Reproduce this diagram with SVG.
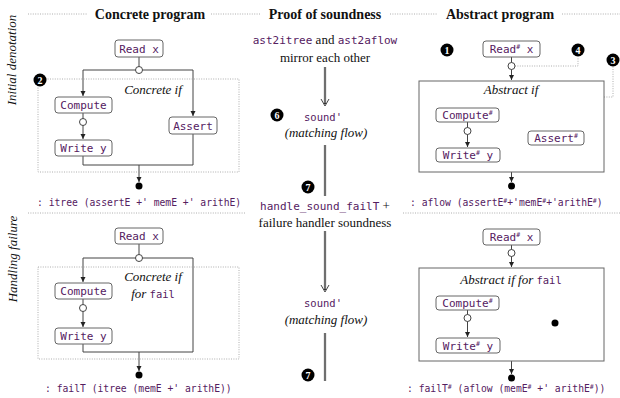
<svg xmlns="http://www.w3.org/2000/svg" width="620" height="398" viewBox="0 0 620 398">
  <defs>
    <style>
      .hdr { font-family: "Liberation Serif", serif; font-weight: bold; font-size: 14px; fill: #111; }
      .ser { font-family: "Liberation Serif", serif; font-size: 13px; fill: #111; }
      .it { font-family: "Liberation Serif", serif; font-style: italic; font-size: 13px; fill: #111; }
      .code { font-family: "DejaVu Sans Mono", "Liberation Mono", monospace; fill: #55205f; }
      .lbl { font-size: 11px; }
      .cap { font-size: 9.7px; }
      .mid { font-size: 10.5px; }
      .sup { font-size: 6.5px; }
      .box { fill: #fff; stroke: #666; stroke-width: 1; }
      .frame { fill: none; stroke: #666; stroke-width: 1; }
      .dots { fill: none; stroke: #999; stroke-width: 0.8; stroke-dasharray: 1 1.4; }
      .flow { fill: none; stroke: #444; stroke-width: 1; }
      .hole { fill: #fff; stroke: #444; stroke-width: 1; }
      .dot { fill: #000; }
      .badge { fill: #000; }
      .num { font-family: "Liberation Serif", serif; font-weight: bold; font-size: 10px; fill: #fff; text-anchor: middle; }
      .dbl { fill: none; stroke: #333; stroke-width: 2.2; }
      .dblin { fill: none; stroke: #fff; stroke-width: 0.6; }
    </style>
    <marker id="ah" markerWidth="6" markerHeight="6" refX="5" refY="2.5" orient="auto" markerUnits="userSpaceOnUse">
      <path d="M0,0 L5,2.5 L0,5 z" fill="#222"/>
    </marker>
  </defs>

  <!-- column headings on a dotted rule -->
  <g id="headings">
    <path class="dots" d="M28,14 H88 M211,14 H261 M390,14 H438 M562,14 H620"/>
    <text class="hdr" x="150" y="19" text-anchor="middle">Concrete program</text>
    <text class="hdr" x="325" y="19" text-anchor="middle">Proof of soundness</text>
    <text class="hdr" x="500" y="19" text-anchor="middle">Abstract program</text>
  </g>

  <!-- row headings -->
  <g id="row-labels">
    <text class="it" transform="translate(16,60) rotate(-90)" text-anchor="middle">Initial denotation</text>
    <text class="it" transform="translate(17,259) rotate(-90)" text-anchor="middle">Handling failure</text>
    <path class="dots" d="M28,213 H246 M403,213 H620"/>
  </g>

  <!-- connectors -->
  <g id="connectors">
    <!-- concrete, initial denotation -->
    <path class="flow" d="M139,57 V70"/>
    <path class="flow" d="M83,70 H193"/>
    <path class="flow" d="M83,70 V96" marker-end="url(#ah)"/>
    <path class="flow" d="M193,70 V116" marker-end="url(#ah)"/>
    <path class="flow" d="M83,113 V139" marker-end="url(#ah)"/>
    <path class="flow" d="M83,156 V165 H193 V134"/>
    <path class="flow" d="M139,165 V182" marker-end="url(#ah)"/>
    <!-- concrete, failure handling -->
    <path class="flow" d="M139,244 V258"/>
    <path class="flow" d="M83,258 H193 V352 H83 V344"/>
    <path class="flow" d="M83,258 V282" marker-end="url(#ah)"/>
    <path class="flow" d="M83,299 V327" marker-end="url(#ah)"/>
    <path class="flow" d="M139,352 V371" marker-end="url(#ah)"/>
    <!-- abstract, initial denotation -->
    <path class="flow" d="M511.5,57 V80" marker-end="url(#ah)"/>
    <path class="flow" d="M467.5,122 V147" marker-end="url(#ah)"/>
    <path class="flow" d="M511.5,172 V182" marker-end="url(#ah)"/>
    <path class="dots" d="M515,66 H578 V57"/>
    <path class="dots" d="M604,97 H613 V67"/>
    <!-- abstract, failure handling -->
    <path class="flow" d="M511.5,245 V267" marker-end="url(#ah)"/>
    <path class="flow" d="M467.5,310 V337" marker-end="url(#ah)"/>
    <path class="flow" d="M511.5,361 V374" marker-end="url(#ah)"/>
    <!-- proof chain (double rules) -->
    <path class="dbl" d="M325,67 V104"/>
    <path class="dblin" d="M325,67 V103"/>
    <path class="flow" d="M321,99 L325,106 L329,99"/>
    <path class="dbl" d="M325,145 V196"/>
    <path class="dblin" d="M325,145 V196"/>
    <path class="dbl" d="M325,231 V290"/>
    <path class="dblin" d="M325,231 V289"/>
    <path class="flow" d="M321,285 L325,292 L329,285"/>
    <path class="dbl" d="M325,333 V381"/>
    <path class="dblin" d="M325,333 V381"/>
    <!-- branch points and exits -->
    <circle class="hole" cx="139" cy="70" r="3.5"/>
    <circle class="hole" cx="83" cy="122" r="3.5"/>
    <circle class="dot" cx="139" cy="186" r="3.5"/>
    <circle class="hole" cx="139" cy="258" r="3.5"/>
    <circle class="hole" cx="83" cy="308" r="3.5"/>
    <circle class="dot" cx="139" cy="375" r="3.5"/>
    <circle class="hole" cx="511.5" cy="66" r="3.5"/>
    <circle class="hole" cx="467.5" cy="131" r="3.5"/>
    <circle class="dot" cx="511.5" cy="186" r="3.5"/>
    <circle class="hole" cx="511.5" cy="253" r="3.5"/>
    <circle class="hole" cx="467.5" cy="318" r="3.5"/>
    <circle class="dot" cx="511.5" cy="378" r="3.5"/>
  </g>

  <!-- concrete program, initial denotation -->
  <g id="concrete-if">
    <rect class="dots" x="38" y="79" width="201" height="93"/>
    <text class="it" x="153" y="94" text-anchor="middle">Concrete if</text>
  </g>
  <g id="c-read">
    <rect class="box" x="115" y="40" width="48" height="17" rx="3"/>
    <text class="code lbl" x="139" y="52.5" text-anchor="middle">Read x</text>
  </g>
  <g id="c-compute">
    <rect class="box" x="55" y="97" width="57" height="16" rx="3"/>
    <text class="code lbl" x="83.5" y="109" text-anchor="middle">Compute</text>
  </g>
  <g id="c-write">
    <rect class="box" x="55" y="140" width="57" height="16" rx="3"/>
    <text class="code lbl" x="83.5" y="152" text-anchor="middle">Write y</text>
  </g>
  <g id="c-assert">
    <rect class="box" x="169" y="117" width="48" height="17" rx="3"/>
    <text class="code lbl" x="193" y="129.5" text-anchor="middle">Assert</text>
  </g>
  <g id="c-type">
    <text class="code cap" x="37" y="206">: itree (assertE +' memE +' arithE)</text>
  </g>

  <!-- concrete program, failure handling -->
  <g id="concrete-if-fail">
    <rect class="dots" x="38" y="267" width="201" height="92"/>
    <text class="it" x="153" y="281" text-anchor="middle">Concrete if</text>
    <text class="it" x="153" y="298" text-anchor="middle">for <tspan class="code" font-style="normal" font-size="10.5px">fail</tspan></text>
  </g>
  <g id="cf-read">
    <rect class="box" x="115" y="228" width="48" height="16" rx="3"/>
    <text class="code lbl" x="139" y="240" text-anchor="middle">Read x</text>
  </g>
  <g id="cf-compute">
    <rect class="box" x="55" y="283" width="57" height="16" rx="3"/>
    <text class="code lbl" x="83.5" y="295" text-anchor="middle">Compute</text>
  </g>
  <g id="cf-write">
    <rect class="box" x="55" y="328" width="57" height="16" rx="3"/>
    <text class="code lbl" x="83.5" y="340" text-anchor="middle">Write y</text>
  </g>
  <g id="cf-type">
    <text class="code cap" x="45" y="392">: failT (itree (memE +' arithE))</text>
  </g>

  <!-- proof of soundness -->
  <g id="mirror">
    <text class="ser" x="325" y="44" text-anchor="middle"><tspan class="code" font-size="11px">ast2itree</tspan> and <tspan class="code" font-size="11px">ast2aflow</tspan></text>
    <text class="ser" x="325" y="62" text-anchor="middle">mirror each other</text>
  </g>
  <g id="sound-1">
    <text class="code mid" x="323" y="121" text-anchor="middle">sound'</text>
    <text class="it" x="326" y="137" text-anchor="middle">(matching flow)</text>
  </g>
  <g id="handler">
    <text class="ser" x="325" y="210" text-anchor="middle"><tspan class="code" font-size="11px">handle_sound_failT</tspan> +</text>
    <text class="ser" x="325" y="227" text-anchor="middle">failure handler soundness</text>
  </g>
  <g id="sound-2">
    <text class="code mid" x="323" y="307" text-anchor="middle">sound'</text>
    <text class="it" x="326" y="324" text-anchor="middle">(matching flow)</text>
  </g>

  <!-- abstract program, initial denotation -->
  <g id="abstract-if">
    <rect class="frame" x="419" y="81" width="185" height="91"/>
    <text class="it" x="511" y="94" text-anchor="middle">Abstract if</text>
  </g>
  <g id="a-read">
    <rect class="box" x="483" y="41" width="57" height="16" rx="3"/>
    <text class="code lbl" x="511.5" y="53" text-anchor="middle">Read<tspan class="sup" dy="-4">#</tspan><tspan dy="4"> x</tspan></text>
  </g>
  <g id="a-compute">
    <rect class="box" x="436" y="108" width="63" height="14" rx="3"/>
    <text class="code lbl" x="467.5" y="119" text-anchor="middle">Compute<tspan class="sup" dy="-4">#</tspan></text>
  </g>
  <g id="a-write">
    <rect class="box" x="436" y="148" width="64" height="14" rx="3"/>
    <text class="code lbl" x="468" y="159" text-anchor="middle">Write<tspan class="sup" dy="-4">#</tspan><tspan dy="4"> y</tspan></text>
  </g>
  <g id="a-assert">
    <rect class="box" x="528" y="131" width="56" height="14" rx="3"/>
    <text class="code lbl" x="556" y="142" text-anchor="middle">Assert<tspan class="sup" dy="-4">#</tspan></text>
  </g>
  <g id="a-type">
    <text class="code cap" x="410" y="206">: aflow (assertE<tspan class="sup" dy="-3.5">#</tspan><tspan dy="3.5">+'memE</tspan><tspan class="sup" dy="-3.5">#</tspan><tspan dy="3.5">+'arithE</tspan><tspan class="sup" dy="-3.5">#</tspan><tspan dy="3.5">)</tspan></text>
  </g>

  <!-- abstract program, failure handling -->
  <g id="abstract-if-fail">
    <rect class="frame" x="419" y="268" width="185" height="93"/>
    <text class="it" x="511" y="284" text-anchor="middle">Abstract if for <tspan class="code" font-style="normal" font-size="10.5px">fail</tspan></text>
    <circle class="dot" cx="555" cy="323" r="3.5"/>
  </g>
  <g id="af-read">
    <rect class="box" x="483" y="229" width="57" height="16" rx="3"/>
    <text class="code lbl" x="511.5" y="241" text-anchor="middle">Read<tspan class="sup" dy="-4">#</tspan><tspan dy="4"> x</tspan></text>
  </g>
  <g id="af-compute">
    <rect class="box" x="436" y="296" width="63" height="14" rx="3"/>
    <text class="code lbl" x="467.5" y="307" text-anchor="middle">Compute<tspan class="sup" dy="-4">#</tspan></text>
  </g>
  <g id="af-write">
    <rect class="box" x="436" y="338" width="64" height="15" rx="3"/>
    <text class="code lbl" x="468" y="349.5" text-anchor="middle">Write<tspan class="sup" dy="-4">#</tspan><tspan dy="4"> y</tspan></text>
  </g>
  <g id="af-type">
    <text class="code cap" x="407" y="392">: failT<tspan class="sup" dy="-3.5">#</tspan><tspan dy="3.5"> (aflow (memE</tspan><tspan class="sup" dy="-3.5">#</tspan><tspan dy="3.5"> +' arithE</tspan><tspan class="sup" dy="-3.5">#</tspan><tspan dy="3.5">))</tspan></text>
  </g>

  <!-- numbered callouts -->
  <g id="badge-1"><circle class="badge" cx="447" cy="50" r="6.5"/><text class="num" x="447" y="53.5">1</text></g>
  <g id="badge-2"><circle class="badge" cx="40" cy="80" r="6.5"/><text class="num" x="40" y="83.5">2</text></g>
  <g id="badge-3"><circle class="badge" cx="613" cy="60" r="6.5"/><text class="num" x="613" y="63.5">3</text></g>
  <g id="badge-4"><circle class="badge" cx="578" cy="50" r="6.5"/><text class="num" x="578" y="53.5">4</text></g>
  <g id="badge-6"><circle class="badge" cx="277" cy="115" r="6.5"/><text class="num" x="277" y="118.5">6</text></g>
  <g id="badge-7a"><circle class="badge" cx="308" cy="187" r="6.5"/><text class="num" x="308" y="190.5">7</text></g>
  <g id="badge-7b"><circle class="badge" cx="308" cy="375" r="6.5"/><text class="num" x="308" y="378.5">7</text></g>
</svg>
